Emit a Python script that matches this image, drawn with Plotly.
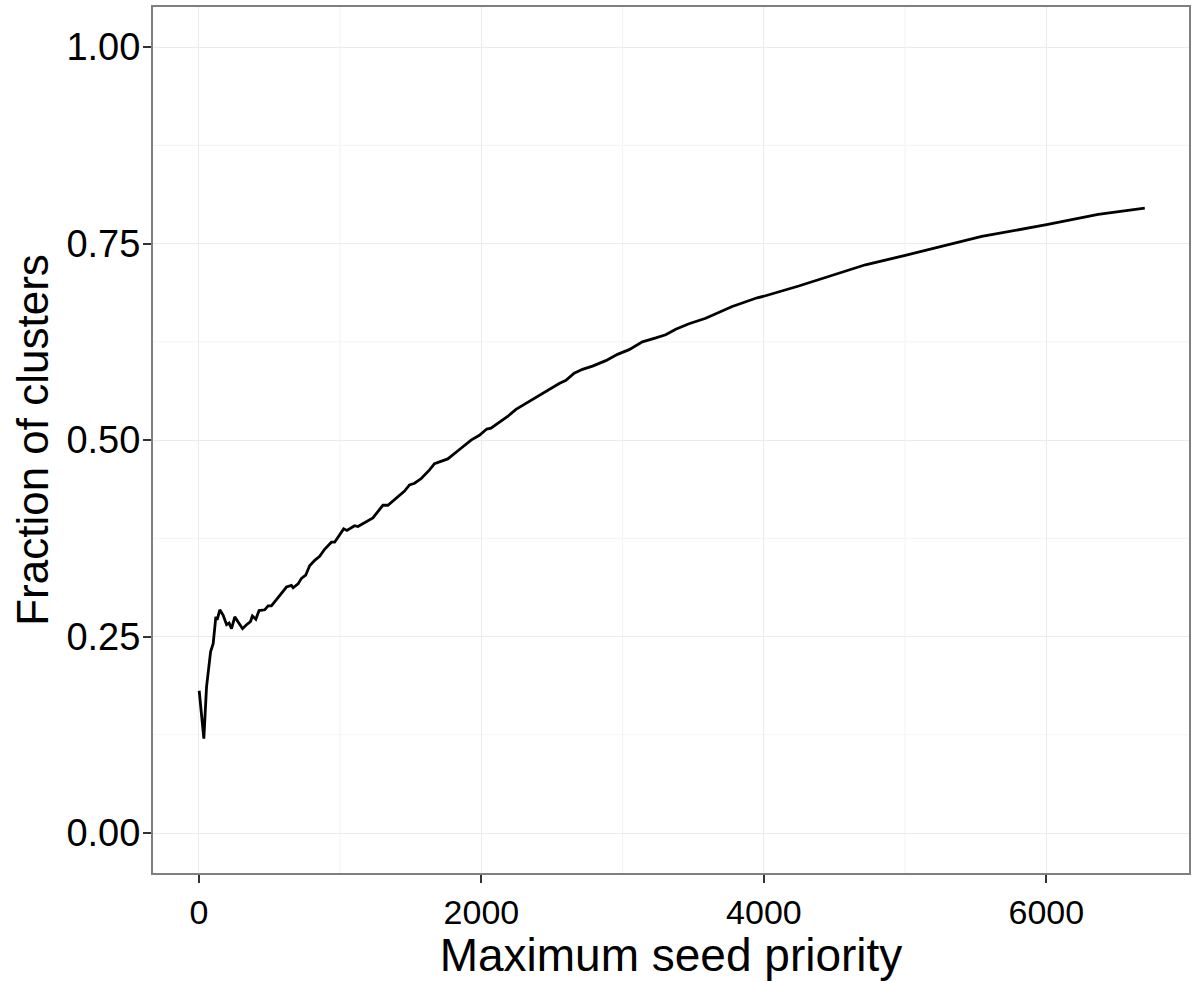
import plotly.graph_objects as go

# Fraction of clusters reached as the maximum seed priority grows
max_seed_priority = [
    2, 35, 54, 83, 101, 120, 129, 148, 172, 196, 214, 231, 254, 278, 309, 337,
    365, 379, 403, 426, 466, 490, 513, 549, 584, 620, 655, 667, 702, 726, 756,
    784, 820, 855, 890, 938, 961, 996, 1025, 1048, 1079, 1102, 1126, 1173, 1232,
    1267, 1303, 1338, 1397, 1456, 1491, 1527, 1574, 1633, 1668, 1762, 1845,
    1927, 1986, 2038, 2068, 2127, 2186, 2245, 2339, 2410, 2504, 2551, 2599,
    2657, 2716, 2787, 2881, 2964, 3046, 3140, 3235, 3305, 3376, 3470, 3588,
    3677, 3776, 3953, 4000, 4247, 4483, 4719, 5001, 5307, 5543, 6002, 6367, 6697,
]
fraction_of_clusters = [
    0.181, 0.120, 0.186, 0.231, 0.241, 0.275, 0.271, 0.284, 0.277, 0.265, 0.267,
    0.260, 0.275, 0.269, 0.260, 0.265, 0.269, 0.276, 0.272, 0.283, 0.284, 0.289,
    0.289, 0.297, 0.305, 0.313, 0.315, 0.312, 0.317, 0.324, 0.328, 0.340, 0.347,
    0.352, 0.361, 0.370, 0.370, 0.380, 0.387, 0.385, 0.388, 0.391, 0.390, 0.395,
    0.401, 0.409, 0.417, 0.417, 0.426, 0.435, 0.443, 0.445, 0.451, 0.462, 0.470,
    0.476, 0.488, 0.500, 0.506, 0.514, 0.515, 0.522, 0.530, 0.539, 0.549, 0.556,
    0.566, 0.572, 0.576, 0.585, 0.590, 0.594, 0.601, 0.609, 0.615, 0.625, 0.630,
    0.634, 0.641, 0.648, 0.655, 0.662, 0.670, 0.681, 0.683, 0.696, 0.710, 0.723,
    0.735, 0.748, 0.759, 0.774, 0.787, 0.795,
]

x_ticks = [0, 2000, 4000, 6000]
y_ticks = [0.0, 0.25, 0.5, 0.75, 1.0]
y_tick_text = ["0.00", "0.25", "0.50", "0.75", "1.00"]
x_minor = [1000, 3000, 5000]
y_minor = [0.125, 0.375, 0.625, 0.875]

FONT = "Liberation Sans, Arial, Helvetica, sans-serif"
X_RANGE = [-325, 7010]
Y_RANGE = [-0.0509, 1.051]

fig = go.Figure()

# minor grid lines (drawn as shapes so they stay fainter than the major grid)
shapes = []
for xv in x_minor:
    shapes.append(dict(type="line", xref="x", yref="paper", x0=xv, x1=xv, y0=0, y1=1,
                       line=dict(color="#f5f5f5", width=1.2), layer="below"))
for yv in y_minor:
    shapes.append(dict(type="line", xref="paper", yref="y", x0=0, x1=1, y0=yv, y1=yv,
                       line=dict(color="#f5f5f5", width=1.2), layer="below"))

fig.add_trace(go.Scatter(
    x=max_seed_priority, y=fraction_of_clusters, mode="lines",
    line=dict(color="black", width=2.8), showlegend=False, hoverinfo="x+y",
))

fig.update_layout(
    width=1196, height=981,
    margin=dict(l=153, r=5, t=7, b=108),
    paper_bgcolor="white", plot_bgcolor="white",
    font=dict(family=FONT, color="black"),
    shapes=shapes,
    xaxis=dict(
        range=X_RANGE, tickvals=x_ticks, ticktext=[str(v) for v in x_ticks],
        showgrid=True, gridcolor="#ebebeb", gridwidth=1.2, zeroline=False,
        ticks="outside", ticklen=8, tickwidth=2, tickcolor="#333333",
        tickfont=dict(size=34, family=FONT, color="black"),
        showline=True, mirror=True, linecolor="#7f7f7f", linewidth=2,
        title=dict(text="Maximum seed priority", font=dict(size=46, family=FONT),
                   standoff=2),
    ),
    yaxis=dict(
        range=Y_RANGE, tickvals=y_ticks, ticktext=y_tick_text,
        showgrid=True, gridcolor="#ebebeb", gridwidth=1.2, zeroline=False,
        ticks="outside", ticklen=8, tickwidth=2, tickcolor="#333333",
        tickfont=dict(size=38, family=FONT, color="black"),
        ticklabelstandoff=-5,
        showline=True, mirror=True, linecolor="#7f7f7f", linewidth=2,
        title=dict(text="Fraction of clusters", font=dict(size=44, family=FONT),
                   standoff=4),
    ),
)

fig.write_html("out.html")
